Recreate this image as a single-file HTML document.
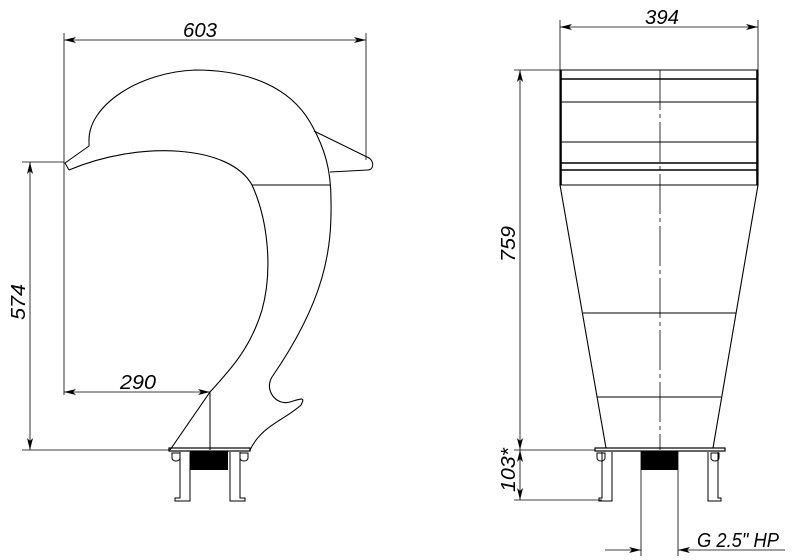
<!DOCTYPE html>
<html><head><meta charset="utf-8"><style>body{margin:0;background:#fff}svg{display:block}</style></head><body>
<svg width="800" height="560" viewBox="0 0 800 560" xmlns="http://www.w3.org/2000/svg" font-family="Liberation Sans, sans-serif">
<defs>
<marker id="a" viewBox="0 0 12 6" refX="12" refY="3" markerWidth="12" markerHeight="6" orient="auto-start-reverse" markerUnits="userSpaceOnUse"><path d="M0,0 L12,3 L0,6 L3,3z" fill="#000"/></marker>
</defs>
<g fill="none" stroke="#000" stroke-width="1">
<path d="M89,141 C88,105 140,72 195,70 C250,70 290,88 310,122 C325,148 331,170 331,200 C332,250 325,300 272,377 C264,390 276,406 290,402 C300,399 306,396 301,405 C285,420 262,425 250,450" stroke-width="1.1"/>
<path d="M69,170 C140,140 230,145 252,185 C268,220 273,270 262,310 C250,350 228,372 210,392 L170,450" stroke-width="1.1"/>
<path d="M89,141 L89,146 L65,163 L69,170"/>
<path d="M314,131 L367,157 C375,160 374,170 368,170 L330,172"/>
<line x1="252" y1="185" x2="330" y2="185"/>
<line x1="64" y1="33" x2="64" y2="395" stroke-width="0.8"/>
<line x1="366" y1="33" x2="366" y2="160" stroke-width="0.8"/>
<line x1="64" y1="40" x2="366" y2="40" marker-start="url(#a)" marker-end="url(#a)" stroke-width="0.8"/>
<line x1="22" y1="162" x2="64" y2="162" stroke-width="0.8"/>
<line x1="22" y1="450" x2="170" y2="450" stroke-width="0.8"/>
<line x1="30" y1="162" x2="30" y2="450" marker-start="url(#a)" marker-end="url(#a)" stroke-width="0.8"/>
<line x1="64" y1="392" x2="210" y2="392" marker-start="url(#a)" marker-end="url(#a)" stroke-width="0.8"/>
<line x1="210" y1="392" x2="210" y2="450"/>
<rect x="169" y="448" width="81" height="3" stroke-width="1.2"/>
<path d="M180,452 V498 H175 V501 H190 V452 M230,452 V501 H245 V498 H240 V452"/>
<path d="M172,453 h8 v5 a4,3 0 0 1 -8,0z M240,453 h8 v5 a4,3 0 0 1 -8,0z"/>
<path d="M560,70 H758 V185 L713,448 M560,70 V185 L606,448" stroke-width="1.1"/>
<line x1="561" y1="70" x2="561" y2="185" stroke-width="1.6"/>
<line x1="757" y1="70" x2="757" y2="185" stroke-width="1.6"/>
<line x1="560" y1="79" x2="758" y2="79" stroke-width="1.6"/>
<line x1="560" y1="102" x2="758" y2="102"/>
<line x1="560" y1="142" x2="758" y2="142"/>
<line x1="560" y1="163" x2="758" y2="163" stroke-width="1.4"/>
<line x1="560" y1="170" x2="758" y2="170" stroke-width="1.4"/>
<line x1="560" y1="185" x2="758" y2="185"/>
<line x1="583" y1="313" x2="736" y2="313"/>
<line x1="597" y1="397" x2="722" y2="397"/>
<line x1="660" y1="70" x2="660" y2="450" stroke-width="0.8" stroke-dasharray="40,4,4,4"/>
<line x1="560" y1="20" x2="560" y2="70" stroke-width="0.8"/>
<line x1="758" y1="20" x2="758" y2="70" stroke-width="0.8"/>
<line x1="560" y1="27" x2="758" y2="27" marker-start="url(#a)" marker-end="url(#a)" stroke-width="0.8"/>
<line x1="514" y1="70" x2="560" y2="70" stroke-width="0.8"/>
<line x1="514" y1="450" x2="595" y2="450" stroke-width="0.8"/>
<line x1="514" y1="500" x2="602" y2="500" stroke-width="0.8"/>
<line x1="520" y1="70" x2="520" y2="450" marker-start="url(#a)" marker-end="url(#a)" stroke-width="0.8"/>
<line x1="520" y1="450" x2="520" y2="500" marker-start="url(#a)" marker-end="url(#a)" stroke-width="0.8"/>
<rect x="595" y="448" width="130" height="3" stroke-width="1.2"/>
<path d="M602,452 V498 H599 V501 H612 V452 M708,452 V501 H721 V498 H718 V452"/>
<path d="M597,453 h8 v5 a4,3 0 0 1 -8,0z M711,453 h8 v5 a4,3 0 0 1 -8,0z"/>
<line x1="641" y1="451" x2="641" y2="556" stroke-width="0.8"/>
<line x1="678" y1="451" x2="678" y2="556" stroke-width="0.8"/>
<line x1="605" y1="550" x2="641" y2="550" marker-end="url(#a)" stroke-width="0.8"/>
<line x1="785" y1="550" x2="678" y2="550" marker-end="url(#a)" stroke-width="0.8"/>
</g>
<rect x="190" y="451" width="38" height="19" fill="#000"/>
<rect x="641" y="451" width="37" height="19" fill="#000"/>
<g font-style="italic" font-size="20" fill="#000">
<text x="183" y="37" textLength="34" lengthAdjust="spacingAndGlyphs">603</text>
<text x="120" y="389" textLength="36" lengthAdjust="spacingAndGlyphs">290</text>
<text x="645" y="24" textLength="34" lengthAdjust="spacingAndGlyphs">394</text>
<text x="697" y="547" textLength="82" lengthAdjust="spacingAndGlyphs">G 2.5" HP</text>
<text transform="translate(25,320) rotate(-90)" textLength="36" lengthAdjust="spacingAndGlyphs">574</text>
<text transform="translate(515,262) rotate(-90)" textLength="36" lengthAdjust="spacingAndGlyphs">759</text>
<text transform="translate(515,492) rotate(-90)" textLength="44" lengthAdjust="spacingAndGlyphs">103*</text>
</g>
</svg>
</body></html>
